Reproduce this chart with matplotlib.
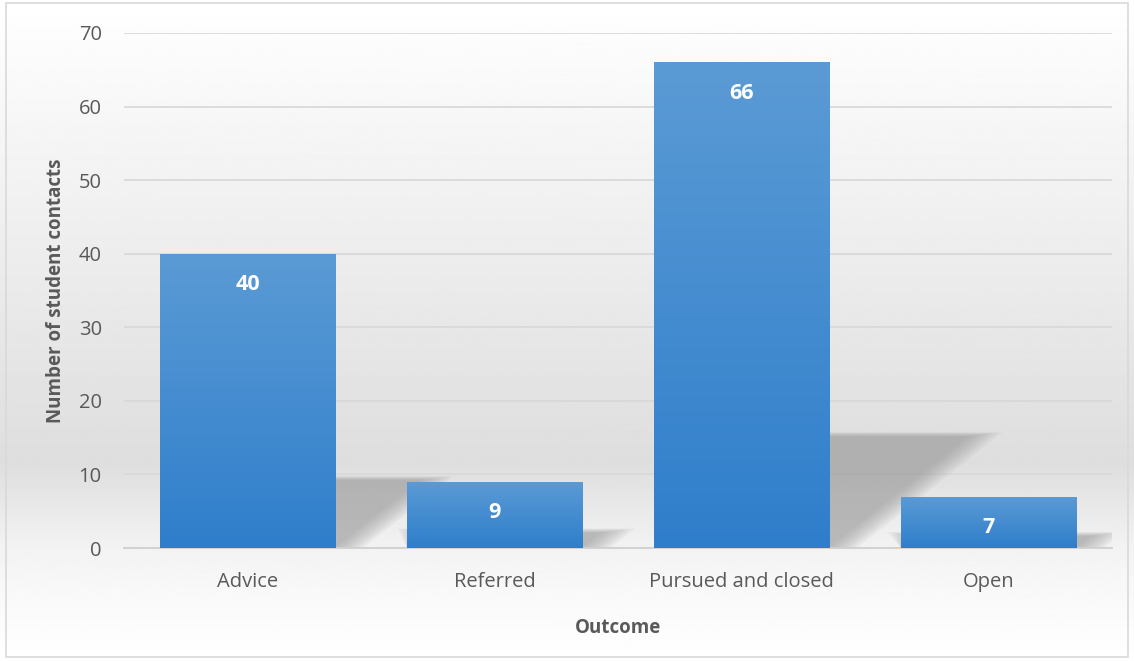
import numpy as np
import matplotlib
matplotlib.use('Agg')
import matplotlib.pyplot as plt
from matplotlib.patches import Rectangle, Polygon
from matplotlib.colors import LinearSegmentedColormap

categories = ['Advice', 'Referred', 'Pursued and closed', 'Open']
contacts = [40, 9, 66, 7]
yticks = [0, 10, 20, 30, 40, 50, 60, 70]

plt.rcParams['font.family'] = ['Open Sans', 'DejaVu Sans']

fig = plt.figure(figsize=(11.34, 6.61), dpi=100)

# chart area background: white top, grey towards the axis, white again at bottom
bg = fig.add_axes([0, 0, 1, 1], zorder=-10)
ys = np.linspace(0, 1, 300)
vals = np.interp(ys, [0, 0.12, 0.172, 0.30, 1.0], [1.0, 0.97, 0.95, 0.87, 1.0])
bg.imshow(vals[:, None], aspect='auto', cmap='gray', vmin=0, vmax=1,
          extent=[0, 1, 0, 1], origin='lower')
bg.set_xlim(0, 1)
bg.set_ylim(0, 1)
bg.axis('off')
bg.add_patch(Rectangle((6 / 1134, 4 / 661), 1122 / 1134, 654 / 661, fill=False,
                       edgecolor='#d9d9d9', linewidth=1.2, transform=bg.transAxes))

ax = fig.add_axes([124 / 1134, 113 / 661, 988 / 1134, 515 / 661])
ax.patch.set_alpha(0)
x = np.arange(len(categories))
width = 0.71

# perspective shadows behind the bars
sh_ratio = 0.23
shear = 1.25 * 7.36 / 247  # category units per value unit
for xi, v in zip(x, contacts):
    h = v * sh_ratio
    left = xi - width / 2
    right = xi + width / 2
    for k in range(8):
        g = k * 0.016
        poly = Polygon([(left, 0), (right + g, 0),
                        (right + h * shear + g * 1.2, h + g * 5),
                        (left + h * shear - g, h + g * 5)],
                       closed=True, facecolor='#8c8c8c', edgecolor='none',
                       alpha=0.09, zorder=1)
        ax.add_patch(poly)

# gradient bars
bar_cmap = LinearSegmentedColormap.from_list('bar', ['#2f7ecb', '#5b9bd5'])
grad = np.linspace(0, 1, 256)[:, None]
for xi, v in zip(x, contacts):
    left = xi - width / 2
    im = ax.imshow(grad, aspect='auto', cmap=bar_cmap, origin='lower',
                   extent=[left, left + width, 0, v], zorder=3)
    rect = Rectangle((left, 0), width, v, transform=ax.transData)
    im.set_clip_path(rect)
    ax.text(xi, v - 4.2, str(v), ha='center', va='center', color='white',
            fontsize=15.5, fontweight='bold', zorder=4)

ax.set_xlim(-0.5, len(categories) - 0.5)
ax.set_ylim(0, 70)
ax.set_yticks(yticks)
ax.set_xticks(x)
ax.set_xticklabels(categories)
ax.grid(axis='y', color='#d9d9d9', linewidth=1.3, zorder=0)
ax.set_axisbelow(True)
for s in ['top', 'right', 'left']:
    ax.spines[s].set_visible(False)
ax.spines['bottom'].set_color('#d0d0d0')
ax.spines['bottom'].set_linewidth(1.3)
ax.tick_params(axis='both', length=0, labelsize=14.5, labelcolor='#595959')
ax.tick_params(axis='y', pad=16)
ax.tick_params(axis='x', pad=17)

ax.set_ylabel('Number of student contacts', fontsize=13.5, fontweight='bold',
              color='#595959', labelpad=9)
ax.set_xlabel('Outcome', fontsize=13.5, fontweight='bold', color='#595959',
              labelpad=19)

fig.savefig('out.png', dpi=100)
